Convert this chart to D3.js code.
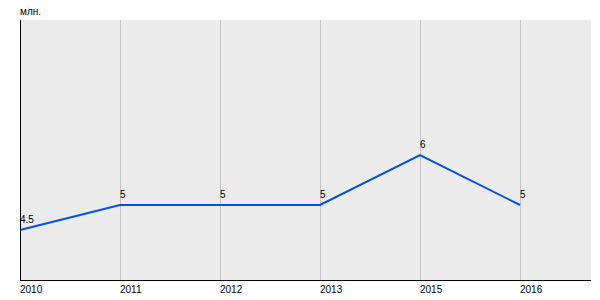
<!DOCTYPE html>
<html>
<head>
<meta charset="utf-8">
<script src="https://cdn.jsdelivr.net/npm/d3@7"></script>
<style>
  body { margin: 0; background: #fff; }
  text { font-family: "Liberation Sans", Arial, sans-serif; font-size: 10px; fill: #000; }
</style>
</head>
<body>
<div id="chart-area"></div>
<script>
const years = ["2010", "2011", "2012", "2013", "2015", "2016"];
const values = [4.5, 5, 5, 5, 6, 5];
const unit = "млн.";

const w = 600;
const h = 300;
const m = { t: 20, l: 20, r: 9, b: 20 };
const width = w - m.l - m.r;
const height = h - m.t - m.b;

let svg = d3.select("#chart-area")
  .append("svg")
  .attr("width", w)
  .attr("height", h);

let g = svg.append("g")
  .attr("transform", "translate(" + m.l + "," + m.t + ")");

g.append("rect")
  .attr("width", width)
  .attr("height", height)
  .attr("fill", "#ebebeb");

let x = d3.scalePoint()
  .domain(years)
  .range([0, 500]);

let y = d3.scaleLinear()
  .domain([3.5, 8.7])
  .range([height, 0]);

// vertical grid
g.selectAll(".grid")
  .data(years.slice(1))
  .enter().append("line")
  .attr("class", "grid")
  .attr("x1", d => x(d) + 0.5)
  .attr("x2", d => x(d) + 0.5)
  .attr("y1", 0)
  .attr("y2", height)
  .attr("stroke", "#c4c4c4")
  .attr("stroke-width", 1);

// axes lines
g.append("line")
  .attr("x1", 0.5).attr("x2", 0.5)
  .attr("y1", 0).attr("y2", height)
  .attr("stroke", "#000");

g.append("line")
  .attr("x1", 0).attr("x2", width)
  .attr("y1", height + 0.5).attr("y2", height + 0.5)
  .attr("stroke", "#000");

// x labels
g.selectAll(".xl")
  .data(years)
  .enter().append("text")
  .attr("class", "xl")
  .attr("x", d => x(d))
  .attr("y", height + 13)
  .text(d => d);

// line
let line = d3.line()
  .x((d, i) => x(years[i]))
  .y(d => y(d));

g.append("path")
  .datum(values)
  .attr("d", line)
  .attr("fill", "none")
  .attr("stroke", "#0050e6")
  .attr("stroke-width", 2);

// value labels
g.selectAll(".vl")
  .data(values)
  .enter().append("text")
  .attr("class", "vl")
  .attr("x", (d, i) => x(years[i]))
  .attr("y", d => y(d) - 7)
  .text(d => d);

svg.append("text")
  .attr("x", 20)
  .attr("y", 15)
  .text(unit);
</script>
</body>
</html>
